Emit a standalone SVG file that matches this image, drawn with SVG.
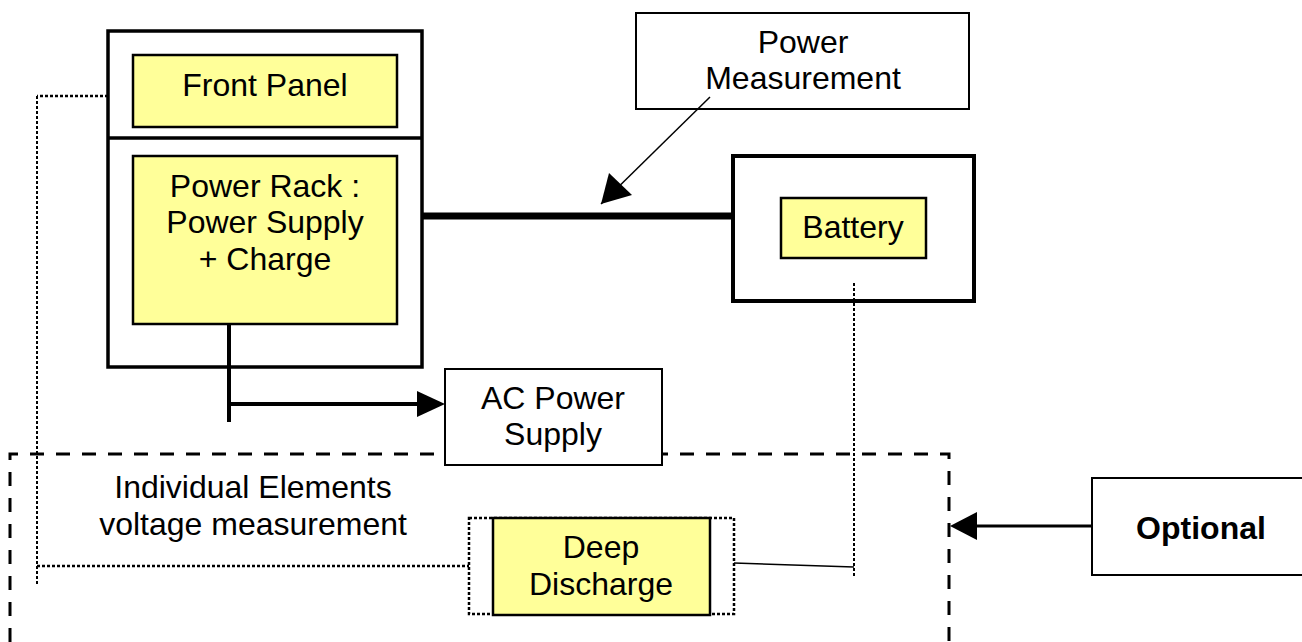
<svg xmlns="http://www.w3.org/2000/svg" width="1302" height="642" viewBox="0 0 1302 642">
<style>
text{font-family:"Liberation Sans",Arial,sans-serif;font-size:32px;fill:#000;text-anchor:middle}
.y{fill:#ffff99;stroke:#000;stroke-width:2.5}
.w{fill:#fff;stroke:#000;stroke-width:2}
.dot{fill:none;stroke:#000;stroke-width:2.5;stroke-dasharray:3 2}
.dotThin{fill:none;stroke:#000;stroke-width:2;stroke-dasharray:3 2}
.dash{fill:none;stroke:#000;stroke-width:3;stroke-dasharray:14 12}
</style>
<g id="optional-group">
<path class="dash" d="M10,642 V454 H949 V642"/>
<text x="253" y="498">Individual Elements</text>
<text x="253" y="535">voltage measurement</text>
</g>
<g id="power-measurement">
<rect class="w" x="636" y="13" width="333" height="96"/>
<text x="803" y="53">Power</text>
<text x="803" y="89">Measurement</text>
</g>
<g id="rack">
<rect x="108" y="31" width="314" height="336" fill="#fff" stroke="#000" stroke-width="3.5"/>
<line x1="108" y1="138" x2="422" y2="138" stroke="#000" stroke-width="3.5"/>
</g>
<g id="front-panel">
<rect class="y" x="133" y="55" width="264" height="72"/>
<text x="265" y="96">Front Panel</text>
</g>
<g id="power-rack">
<rect class="y" x="133" y="156" width="264" height="168"/>
<text x="265" y="197">Power Rack :</text>
<text x="265" y="233">Power Supply</text>
<text x="265" y="270">+ Charge</text>
</g>
<g id="battery-box">
<rect x="733" y="156" width="241" height="145" fill="#fff" stroke="#000" stroke-width="4"/>
</g>
<g id="battery">
<rect class="y" x="781" y="198" width="145" height="60"/>
<text x="853" y="238">Battery</text>
</g>
<g id="ac-power">
<rect class="w" x="445" y="369" width="217" height="96"/>
<text x="553" y="409">AC Power</text>
<text x="553" y="445">Supply</text>
</g>
<g id="deep-discharge">
<rect class="dot" x="469" y="518" width="265" height="96"/>
<rect class="y" x="493" y="518" width="217" height="97"/>
<text x="601" y="558">Deep</text>
<text x="601" y="595">Discharge</text>
</g>
<g id="optional">
<rect class="w" x="1092" y="478" width="220" height="97"/>
<text x="1201" y="539" style="font-weight:bold">Optional</text>
</g>
<g id="connectors">
<line x1="422" y1="216" x2="733" y2="216" stroke="#000" stroke-width="7"/>
<line x1="710" y1="97" x2="601" y2="204" stroke="#000" stroke-width="1.5"/>
<path d="M601,204 L609,173 L632,195 z" fill="#000"/>
<line x1="229" y1="324" x2="229" y2="422" stroke="#000" stroke-width="4"/>
<line x1="229" y1="404" x2="420" y2="404" stroke="#000" stroke-width="4"/>
<path d="M445,404 L417,391 L417,417 z" fill="#000"/>
<line x1="1092" y1="526" x2="975" y2="526" stroke="#000" stroke-width="3"/>
<path d="M950,526 L977,512 L977,540 z" fill="#000"/>
<path class="dot" d="M108,96 H37"/>
<path class="dotThin" d="M37,96 V585"/>
<path class="dot" d="M37,566 H469"/>
<path class="dotThin" d="M854,283 V577"/>
<line x1="734" y1="563" x2="854" y2="567" stroke="#000" stroke-width="1.5"/>
</g>
</svg>
